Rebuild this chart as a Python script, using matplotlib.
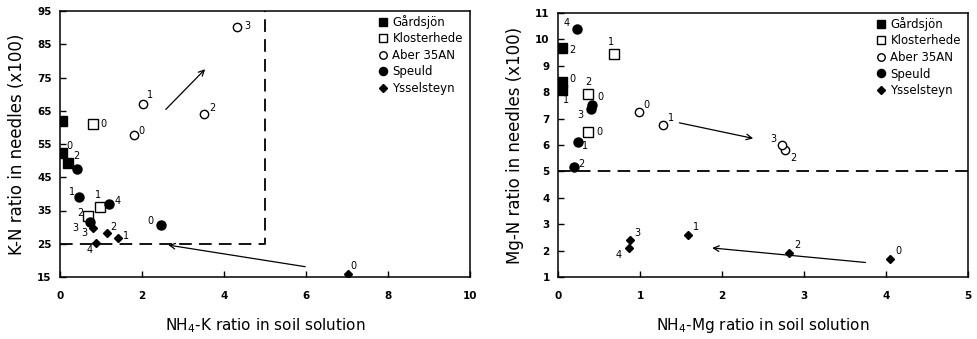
import matplotlib
matplotlib.use("Agg")
import matplotlib.pyplot as plt

plt.rcParams['font.family'] = ['DejaVu Sans']

# ---- left panel: NH4-K vs K-N ----
sites = ["Gårdsjön", "Klosterhede", "Aber 35AN", "Speuld", "Ysselsteyn"]

k_gard_x = [0.04, 0.04, 0.2]
k_gard_y = [62, 52.2, 49.2]
k_gard_lab = ["", "0", ""]

k_klos_x = [0.81, 0.98, 0.69]
k_klos_y = [61, 36.1, 33.3]
k_klos_lab = ["0", "1", "2"]

k_aber_x = [1.81, 2.03, 3.51, 4.31]
k_aber_y = [57.7, 66.9, 64, 90.3]
k_aber_lab = ["0", "1", "2", "3"]

k_speu_x = [2.46, 0.46, 0.42, 0.73, 1.2]
k_speu_y = [30.6, 39.1, 47.4, 31.6, 37]
k_speu_lab = ["0", "1", "2", "3", "4"]

k_yssel_x = [7.02, 1.42, 1.14, 0.8, 0.87]
k_yssel_y = [15.9, 26.6, 28.3, 29.6, 25.3]
k_yssel_lab = ["0", "1", "2", "3", "4"]

# ---- right panel: NH4-Mg vs Mg-N ----
m_gard_x = [0.05, 0.05, 0.05]
m_gard_y = [8.38, 8.07, 9.67]
m_gard_lab = ["0", "1", "2"]

m_klos_x = [0.37, 0.68, 0.37]
m_klos_y = [6.5, 9.45, 7.95]
m_klos_lab = ["0", "1", "2"]

m_aber_x = [0.99, 1.28, 2.77, 2.73]
m_aber_y = [7.24, 6.75, 5.8, 6.0]
m_aber_lab = ["0", "1", "2", "3"]

m_speu_x = [0.42, 0.24, 0.19, 0.4, 0.23]
m_speu_y = [7.5, 6.12, 5.18, 7.38, 10.4]
m_speu_lab = ["0", "1", "2", "3", "4"]

m_yssel_x = [4.05, 1.58, 2.82, 0.88, 0.87]
m_yssel_y = [1.68, 2.6, 1.9, 2.4, 2.09]
m_yssel_lab = ["0", "1", "2", "3", "4"]

# label offsets in pixels (x right, y up)
k_off = {
    "gard": [(0, 0), (8, 7), (0, 0)],
    "klos": [(10, 0), (-2, 12), (-8, 3)],
    "aber": [(7, 4), (7, 9), (8, 6), (11, 1)],
    "speu": [(-10, 4), (-7, 5), (-1, 13), (-15, -6), (8, 3)],
    "yssel": [(6, 8), (8, 2), (7, 6), (-8, -5), (-6, -7)],
}
m_off = {
    "gard": [(10, 3), (4, -10), (10, -2)],
    "klos": [(11, 0), (-3, 12), (0, 12)],
    "aber": [(7, 7), (8, 7), (8, -8), (-8, 6)],
    "speu": [(8, 8), (7, -4), (8, 3), (-10, -6), (-10, 6)],
    "yssel": [(8, 8), (8, 8), (8, 8), (7, 7), (-11, -7)],
}

styles = [
    dict(marker="s", mfc="black", mec="black", ms=6.5),
    dict(marker="s", mfc="white", mec="black", ms=6.5, mew=1.0),
    dict(marker="o", mfc="white", mec="black", ms=6, mew=1.0),
    dict(marker="o", mfc="black", mec="black", ms=6.5),
    dict(marker="D", mfc="black", mec="black", ms=4.5),
]


def panel(ax, data, offs):
    keys = ["gard", "klos", "aber", "speu", "yssel"]
    for i, (xs, ys, labs) in enumerate(data):
        ax.plot(xs, ys, linestyle="none", label=sites[i], zorder=3, **styles[i])
        for x, y, t, o in zip(xs, ys, labs, offs[keys[i]]):
            if t:
                ax.annotate(t, (x, y), xytext=o, textcoords="offset pixels",
                            fontsize=7, ha="center", va="center")


fig = plt.figure(figsize=(9.77, 3.39), dpi=100)
ax1 = fig.add_axes([60 / 977, 62 / 339, 410 / 977, 266 / 339])
ax2 = fig.add_axes([558 / 977, 62 / 339, 410 / 977, 264 / 339])

panel(ax1, [(k_gard_x, k_gard_y, k_gard_lab), (k_klos_x, k_klos_y, k_klos_lab),
            (k_aber_x, k_aber_y, k_aber_lab), (k_speu_x, k_speu_y, k_speu_lab),
            (k_yssel_x, k_yssel_y, k_yssel_lab)], k_off)
panel(ax2, [(m_gard_x, m_gard_y, m_gard_lab), (m_klos_x, m_klos_y, m_klos_lab),
            (m_aber_x, m_aber_y, m_aber_lab), (m_speu_x, m_speu_y, m_speu_lab),
            (m_yssel_x, m_yssel_y, m_yssel_lab)], m_off)

# dashed threshold lines
ax1.plot([0, 5, 5], [25, 25, 95], color="black", lw=1.3, dashes=(7, 4), zorder=2)
ax2.plot([0, 5], [5, 5], color="black", lw=1.3, dashes=(7, 4), zorder=2)

# arrows
arr = dict(arrowstyle="->", color="black", lw=0.9, shrinkA=0, shrinkB=0)
ax1.annotate("", xy=(3.54, 77.5), xytext=(2.58, 65.4), arrowprops=arr)
ax1.annotate("", xy=(2.64, 24.6), xytext=(5.98, 18.1), arrowprops=arr)
ax2.annotate("", xy=(2.38, 6.25), xytext=(1.48, 6.84), arrowprops=arr)
ax2.annotate("", xy=(1.88, 2.1), xytext=(3.75, 1.55), arrowprops=arr)

ax1.set_xlim(0, 10)
ax1.set_ylim(15, 95)
ax1.set_xticks([0, 2, 4, 6, 8, 10])
ax1.set_yticks(range(15, 96, 10))
ax2.set_xlim(0, 5)
ax2.set_ylim(1, 11)
ax2.set_xticks(range(0, 6))
ax2.set_yticks(range(1, 12))

ax1.set_xlabel("NH$_4$-K ratio in soil solution", fontsize=11, labelpad=11)
ax1.set_ylabel("K-N ratio in needles (x100)", fontsize=12, labelpad=8)
ax2.set_xlabel("NH$_4$-Mg ratio in soil solution", fontsize=11, labelpad=11)
ax2.set_ylabel("Mg-N ratio in needles (x100)", fontsize=12, labelpad=8)

for ax in (ax1, ax2):
    ax.tick_params(direction="in", length=4, width=1, labelsize=7.5)
    ax.tick_params(axis="x", pad=10)
    ax.tick_params(axis="y", pad=6)
    for lab in ax.get_xticklabels() + ax.get_yticklabels():
        lab.set_fontweight("bold")
    for s in ax.spines.values():
        s.set_linewidth(1.1)
    ax.legend(loc="upper right", bbox_to_anchor=(1.0, 1.012), frameon=False,
              fontsize=8.5, handletextpad=0.3, labelspacing=0.3,
              borderaxespad=0.2, handlelength=1.0, markerscale=0.9)

fig.savefig("out.png", dpi=100)
